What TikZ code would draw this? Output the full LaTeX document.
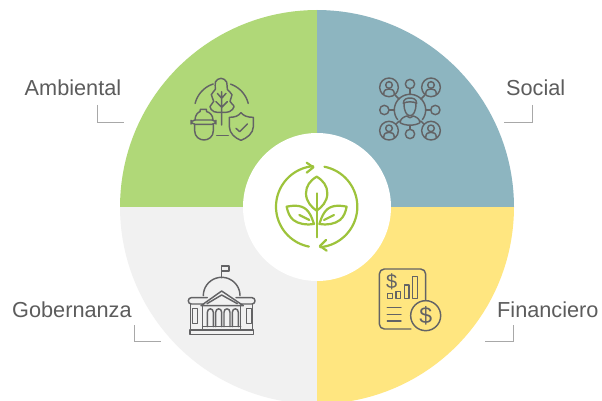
\documentclass[tikz,border=0pt]{standalone}
\usepackage{fontspec}
\setmainfont{Liberation Sans}
\definecolor{gverde}{HTML}{B0D878}
\definecolor{gazul}{HTML}{8DB5C0}
\definecolor{gamar}{HTML}{FFE680}
\definecolor{ggris}{HTML}{F1F1F1}
\definecolor{icono}{HTML}{636365}
\definecolor{hoja}{HTML}{9DC33B}
\definecolor{texto}{HTML}{5C5C5C}
\definecolor{guia}{HTML}{A8A8A8}
\tikzset{
  arcm/.style n args={5}{insert path={plot[domain=#4:#5,samples=40] ({#1+#3*cos(\x)},{#2-#3*sin(\x)})}},
  arcl/.style n args={5}{insert path={-- plot[domain=#4:#5,samples=40] ({#1+#3*cos(\x)},{#2-#3*sin(\x)})}},
  ico/.style={draw=icono,line width=1.45pt,line cap=round,line join=round},
  leaf/.style={draw=hoja,line width=2.2pt,line cap=round,line join=round},
  label/.style={text=texto,font=\fontsize{21.7}{24}\selectfont,anchor=base west,inner sep=0pt},
  guideline/.style={draw=guia,line width=0.7pt},
  dollar/.style={text=icono,inner sep=0pt}
}
\begin{document}
\begin{tikzpicture}[x=1pt,y=-1pt]
\clip (0,0) rectangle (602,401);
\fill[white] (0,0) rectangle (602,401);
% sectors
\fill[gverde] (317,207) [arcl={317}{207}{197}{90}{180}] -- cycle;
\fill[gazul]  (317,207) [arcl={317}{207}{197}{0}{90}] -- cycle;
\fill[ggris]  (317,207) [arcl={317}{207}{197}{180}{270}] -- cycle;
\fill[gamar]  (317,207) [arcl={317}{207}{197}{270}{360}] -- cycle;
\fill[white] (317,207) circle[radius=74];
% labels
\node[label] (amb) at (24.5,96) {Ambiental};
\node[label] (soc) at (506,96) {Social};
\node[label] (gob) at (12,317) {Gobernanza};
\node[label] (fin) at (497,317) {Financiero};
\draw[guideline] (97,105) -- (97,122) -- (124,122);
\draw[guideline] (532,105) -- (532,122) -- (504,122);
\draw[guideline] (134,325) -- (134,341) -- (161,341);
\draw[guideline] (513,325) -- (513,341) -- (485,341);
% environmental icon
\begin{scope}[shift={(170,60)},scale=1/3]
\draw[ico] plot[smooth cycle,tension=.7] coordinates {(153,55) (170,66) (172,88) (186,104) (180,124) (192,140) (178,155) (155,157) (132,155) (120,140) (131,124) (124,104) (136,88) (136,66)};
\draw[ico] (155,95) -- (155,195) (142,100) -- (155,115) -- (168,100) (138,125) -- (155,142) -- (172,125);
\draw[ico,arcm={155}{150}{82}{108}{166}];
\draw[ico,arcm={155}{150}{82}{14}{71}];
\draw[ico] (140,226) -- (175,226);
\draw[ico] (75,180) .. controls (75,165) and (85,156) .. (90,155) -- (91,148) -- (109,148) -- (110,155) .. controls (118,156) and (129,165) .. (129,180);
\draw[ico,rounded corners=4pt] (63,180) rectangle (138,193);
\draw[ico] (74,193) -- (74,212) .. controls (74,230) and (88,240) .. (102,240) .. controls (116,240) and (130,230) .. (130,212) -- (130,193);
\draw[ico] (178,172) .. controls (195,172) and (205,168) .. (213,158) .. controls (221,168) and (233,172) .. (250,172) -- (250,200) .. controls (250,220) and (230,235) .. (213,241) .. controls (196,235) and (178,220) .. (178,200) -- cycle;
\draw[ico] (198,205) -- (209,215) -- (232,192);
\end{scope}
% social icon
\begin{scope}[shift={(360,60)},scale=1/3]
\foreach \px/\py in {87/82,213/82,87/212,213/212}{
  \draw[ico] (\px,\py) circle[radius=28];
  \draw[ico] (\px,\py-7) circle[radius=10];
  \draw[ico] (\px-16,\py+21) .. controls (\px-16,\py+7) and (\px-8,\py+5) .. (\px,\py+5) .. controls (\px+8,\py+5) and (\px+16,\py+7) .. (\px+16,\py+21);
}
\foreach \px/\py in {150/72,150/222,73/150,226/150}{
  \draw[ico] (\px,\py) circle[radius=14];
}
\draw[ico,arcm={150}{150}{47}{-38}{218}];
\draw[ico] (150,86) -- (150,103) (150,197) -- (150,208) (87,150) -- (103,150) (197,150) -- (212,150);
\draw[ico] (107,107) -- (117,117) (193,107) -- (183,117) (108,192) -- (118,183) (192,192) -- (182,183);
\draw[ico] (132,130) .. controls (132,155) and (140,167) .. (150,167) .. controls (160,167) and (168,155) .. (168,130);
\draw[ico] (130,130) .. controls (130,118) and (140,114) .. (150,114) .. controls (160,114) and (170,118) .. (170,130) .. controls (160,124) and (140,124) .. (130,130) -- cycle;
\draw[ico] (120,188) .. controls (122,175) and (130,172) .. (140,168) .. controls (145,175) and (155,175) .. (160,168) .. controls (170,172) and (178,175) .. (180,188) .. controls (165,198) and (135,198) .. (120,188) -- cycle;
\end{scope}
% governance icon
\begin{scope}[shift={(175,255)},scale=1/3]
\draw[ico] (140,35) -- (140,68);
\draw[ico] (140,33) rectangle (162,48);
\draw[ico,arcm={140}{122}{55}{0}{180}];
\draw[ico] (78,152) -- (140,108) -- (205,152) -- cycle;
\draw[ico] (96,146) -- (140,120) -- (187,146);
\draw[ico,rounded corners=3pt] (97,128) -- (40,128) -- (40,147) -- (82,147);
\draw[ico,rounded corners=3pt] (183,128) -- (240,128) -- (240,147) -- (200,147);
\draw[ico] (53,160) rectangle (67,205);
\draw[ico] (215,160) rectangle (229,205);
\draw[ico] (47,147) -- (47,225) (233,147) -- (233,225);
\draw[ico] (83,152) -- (83,225) (197,152) -- (197,225);
\foreach \ax in {97,122,147,172}{
  \draw[ico] (\ax,215) -- (\ax,172) .. controls (\ax,158) and (\ax+18,158) .. (\ax+18,172) -- (\ax+18,215);
}
\draw[ico] (83,215) -- (197,215);
\draw[ico] (45,225) rectangle (235,238);
\end{scope}
% financial icon
\begin{scope}[shift={(365,260)},scale=1/3]
\draw[ico,rounded corners=5pt] (182,122) -- (182,27) -- (43,27) -- (43,207) -- (138,207);
\draw[ico] (182,167) circle[radius=45];
\draw[ico] (67,100) rectangle (82,115);
\draw[ico] (93,95) rectangle (107,115);
\draw[ico] (118,75) rectangle (132,115);
\draw[ico] (143,50) rectangle (158,115);
\draw[ico] (67,143) -- (108,143) (67,163) -- (108,163) (67,183) -- (108,183);
\node[dollar,font=\fontsize{20}{20}\selectfont] (d1) at (80,66) {\$};
\node[dollar,font=\fontsize{23}{22}\selectfont] (d2) at (182,167) {\$};
\end{scope}
% centre icon
\begin{scope}[shift={(260,150)},scale=1/3]
\draw[leaf,arcm={170}{170}{122}{-85}{79}];
\draw[leaf,arcm={170}{170}{122}{95}{259}];
\draw[leaf] (140,38) -- (160,52) -- (140,68);
\draw[leaf] (198,270) -- (180,288) -- (200,302);
\draw[leaf] (170,80) .. controls (150,92) and (138,108) .. (138,130) .. controls (138,155) and (155,172) .. (170,182) .. controls (185,172) and (202,155) .. (202,130) .. controls (202,108) and (190,92) .. (170,80) -- cycle;
\draw[leaf] (170,130) -- (170,262);
\draw[leaf] (80,170) .. controls (105,165) and (130,165) .. (145,185) .. controls (155,198) and (158,212) .. (162,222) .. controls (140,226) and (115,222) .. (100,210) .. controls (88,200) and (83,185) .. (80,170) -- cycle;
\draw[leaf] (260,170) .. controls (235,165) and (210,165) .. (195,185) .. controls (185,198) and (182,212) .. (178,222) .. controls (200,226) and (225,222) .. (240,210) .. controls (252,200) and (257,185) .. (260,170) -- cycle;
\draw[leaf] (118,195) -- (148,210);
\draw[leaf] (222,195) -- (192,210);
\end{scope}
\end{tikzpicture}
\end{document}
